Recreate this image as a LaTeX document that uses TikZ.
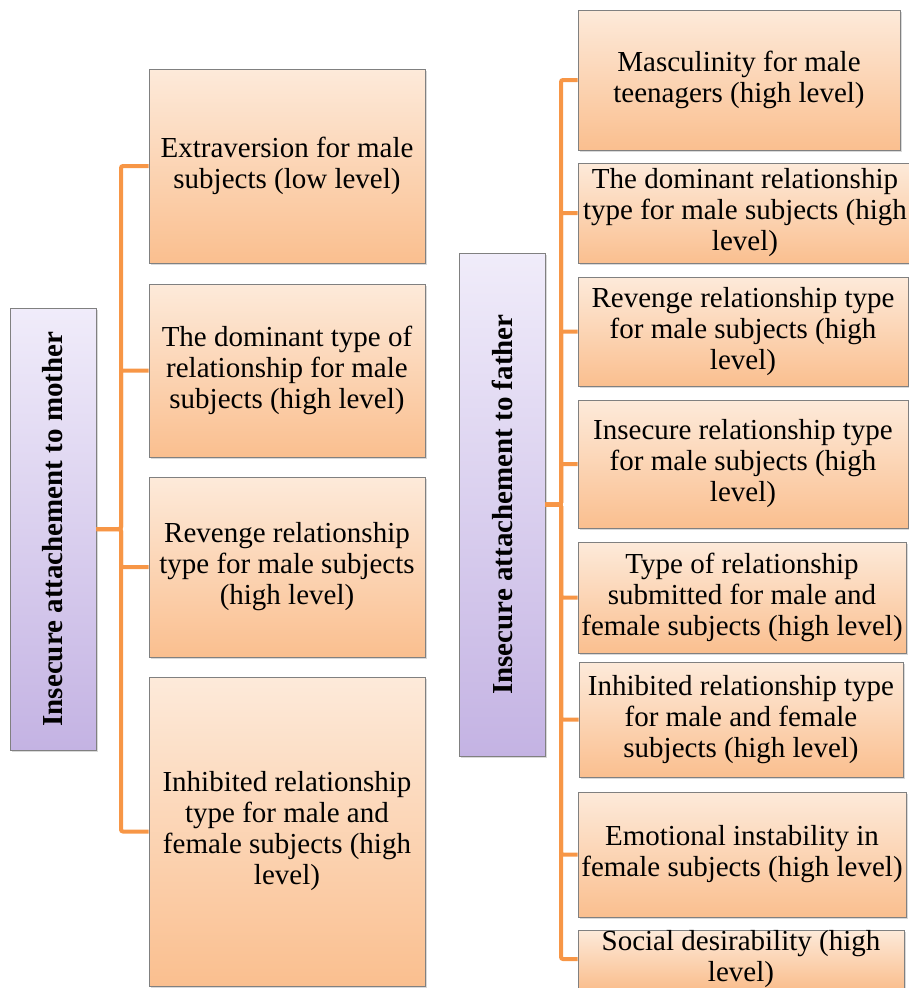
\documentclass[tikz,border=0pt]{standalone}
\usepackage{fontspec}
\setmainfont{Liberation Serif}
\usetikzlibrary{shadows}
\definecolor{oboxtop}{HTML}{FDEADA}
\definecolor{oboxbot}{HTML}{FABF8F}
\definecolor{pboxtop}{HTML}{F0ECFA}
\definecolor{pboxbot}{HTML}{C4B3E3}
\definecolor{connc}{HTML}{F79646}
\definecolor{edgec}{HTML}{808080}
\begin{document}
\begin{tikzpicture}[x=1pt,y=-1pt,
  basebox/.style={draw=edgec, line width=0.8pt, align=center, inner sep=0pt,
    drop shadow={shadow xshift=1.5pt, shadow yshift=-2pt, opacity=0.3}},
  obox/.style={basebox, top color=oboxtop, bottom color=oboxbot,
    font=\fontsize{29}{31}\selectfont},
  pbox/.style={basebox, top color=pboxtop, bottom color=pboxbot,
    font=\fontsize{29}{31}\selectfont\bfseries},
  connline/.style={draw=connc, line width=4pt, rounded corners=2pt}]
\useasboundingbox (0,0) rectangle (908,988);

% left group
\node[pbox, minimum width=86pt, minimum height=442pt] (mo) at (53,529)
  {\rotatebox{90}{Insecure attachement to mother}};
\node[obox, minimum width=276pt, minimum height=194pt] (l1) at (287,166)
  {Extraversion for male\\subjects (low level)};
\node[obox, minimum width=276pt, minimum height=173pt] (l2) at (287,370.5)
  {The dominant type of\\relationship for male\\subjects (high level)};
\node[obox, minimum width=276pt, minimum height=180pt] (l3) at (287,567)
  {Revenge relationship\\type for male subjects\\(high level)};
\node[obox, minimum width=276pt, minimum height=309pt] (l4) at (287,831.5)
  {Inhibited relationship\\type for male and\\female subjects (high\\level)};

% right group
\node[pbox, minimum width=86pt, minimum height=503pt] (fa) at (502,504.5)
  {\rotatebox{90}{Insecure attachement to father}};
\node[obox, minimum width=322pt, minimum height=140pt] (r1) at (739,80)
  {Masculinity for male\\teenagers (high level)};
\node[obox, minimum width=334pt, minimum height=100pt] (r2) at (745,213)
  {The dominant relationship\\type for male subjects (high\\level)};
\node[obox, minimum width=330pt, minimum height=109pt] (r3) at (743,331.5)
  {Revenge relationship type\\for male subjects (high\\level)};
\node[obox, minimum width=330pt, minimum height=128pt] (r4) at (743,464)
  {Insecure relationship type\\for male subjects (high\\level)};
\node[obox, minimum width=328pt, minimum height=111pt] (r5) at (742,597.5)
  {Type of relationship\\submitted for male and\\female subjects (high level)};
\node[obox, minimum width=324pt, minimum height=115pt] (r6) at (741,719.5)
  {Inhibited relationship type\\for male and female\\subjects (high level)};
\node[obox, minimum width=328pt, minimum height=125pt] (r7) at (742,854.5)
  {Emotional instability in\\female subjects (high level)};
\node[obox, minimum width=326pt, minimum height=58pt] (r8) at (741,959)
  {Social desirability (high\\level)};

% connectors
\coordinate (lt) at (121,0);
\coordinate (rt) at (561,0);
\foreach \b in {l1,l2,l3,l4}
  \draw[connline] (mo.east) -- (mo.east -| lt) |- (\b.west);
\foreach \b in {r1,r2,r3,r4,r5,r6,r7,r8}
  \draw[connline] (fa.east) -- (fa.east -| rt) |- (\b.west);
\end{tikzpicture}
\end{document}
